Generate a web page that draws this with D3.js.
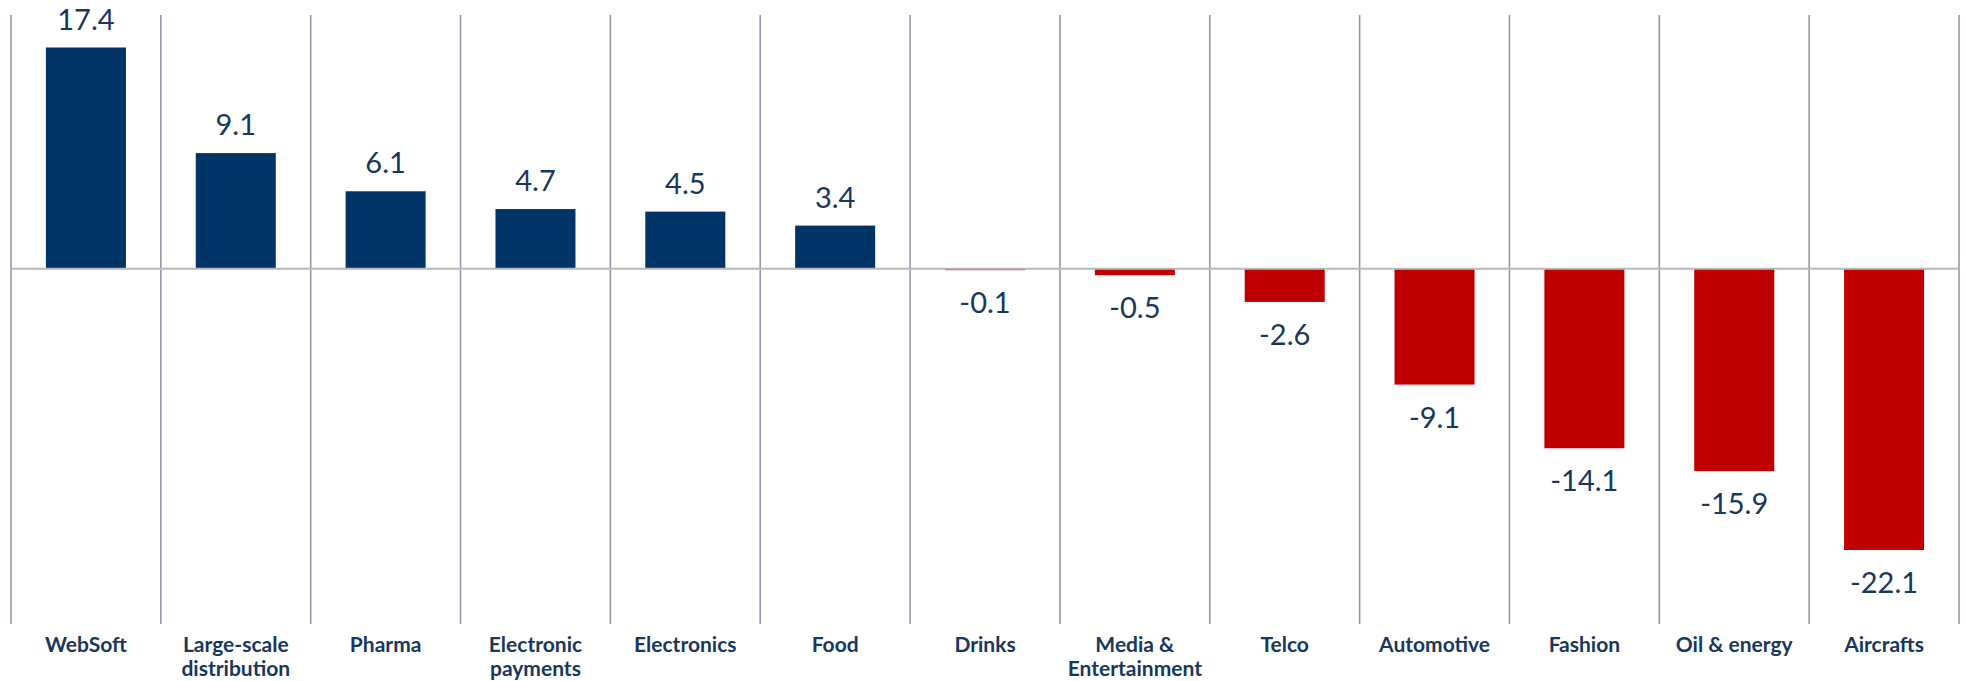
<!DOCTYPE html>
<html>
<head>
<meta charset="utf-8">
<script src="https://cdn.jsdelivr.net/npm/d3@7"></script>
<style>
  html, body { margin: 0; padding: 0; background: #ffffff; }
  svg { display: block; }
</style>
</head>
<body>
<svg id="chart" width="1966" height="681"></svg>
<script>
// Sector performance, ordered from best to worst
const categories = [
  "WebSoft", "Large-scale distribution", "Pharma", "Electronic payments",
  "Electronics", "Food", "Drinks", "Media & Entertainment", "Telco",
  "Automotive", "Fashion", "Oil & energy", "Aircrafts"
];
const values = [17.4, 9.1, 6.1, 4.7, 4.5, 3.4, -0.1, -0.5, -2.6, -9.1, -14.1, -15.9, -22.1];
// Category labels split over lines
const labelLines = [
  ["WebSoft"], ["Large-scale", "distribution"], ["Pharma"], ["Electronic", "payments"],
  ["Electronics"], ["Food"], ["Drinks"], ["Media &", "Entertainment"], ["Telco"],
  ["Automotive"], ["Fashion"], ["Oil & energy"], ["Aircrafts"]
];

const POS = "#003366", NEG = "#C00000", TEXT = "#17375E";
const svg = d3.select("#chart");

const left = 11, right = 1959, gridTop = 15, gridBottom = 624;

const x = d3.scaleBand()
  .domain(categories)
  .range([left, right])
  .paddingInner(0.466)
  .paddingOuter(0.233);
const step = x.step();

const y = d3.scaleLinear()
  .domain([d3.min(values), d3.max(values)])
  .range([550, 47.5]);

const data = categories.map((c, i) => ({ cat: c, value: values[i], lines: labelLines[i] }));

// Vertical separators between categories
const seps = d3.range(categories.length + 1).map(i => left + i * step);
svg.append("g")
  .selectAll("line")
  .data(seps)
  .join("line")
  .attr("x1", d => d).attr("x2", d => d)
  .attr("y1", gridTop).attr("y2", gridBottom)
  .attr("stroke", "#9397a8")
  .attr("stroke-width", 1.6);

// Bars
svg.append("g")
  .selectAll("rect")
  .data(data)
  .join("rect")
  .attr("x", d => x(d.cat))
  .attr("width", x.bandwidth())
  .attr("y", d => Math.min(y(0), y(d.value)))
  .attr("height", d => Math.abs(y(d.value) - y(0)))
  .attr("fill", d => d.value >= 0 ? POS : NEG);

// Zero baseline
svg.append("line")
  .attr("x1", left).attr("x2", right)
  .attr("y1", y(0)).attr("y2", y(0))
  .attr("stroke", "#b8b8b8")
  .attr("stroke-width", 2);

// Value labels
svg.append("g")
  .selectAll("text")
  .data(data)
  .join("text")
  .attr("x", d => x(d.cat) + x.bandwidth() / 2)
  .attr("y", d => d.value >= 0 ? y(d.value) - 18 : y(d.value) + 43)
  .attr("text-anchor", "middle")
  .attr("font-family", "Lato, 'Open Sans', sans-serif")
  .attr("font-size", 29)
  .attr("fill", TEXT)
  .text(d => d.value.toFixed(1));

// Category labels
const cats = svg.append("g")
  .selectAll("text")
  .data(data)
  .join("text")
  .attr("x", d => x(d.cat) + x.bandwidth() / 2)
  .attr("y", 652)
  .attr("text-anchor", "middle")
  .attr("font-family", "Lato, 'Open Sans', sans-serif")
  .attr("font-weight", "bold")
  .attr("font-size", 21)
  .attr("fill", TEXT);
cats.selectAll("tspan")
  .data(d => d.lines.map(t => ({ t, cx: x(d.cat) + x.bandwidth() / 2 })))
  .join("tspan")
  .attr("x", d => d.cx)
  .attr("dy", (d, i) => i === 0 ? 0 : 24)
  .text(d => d.t);
</script>
</body>
</html>
